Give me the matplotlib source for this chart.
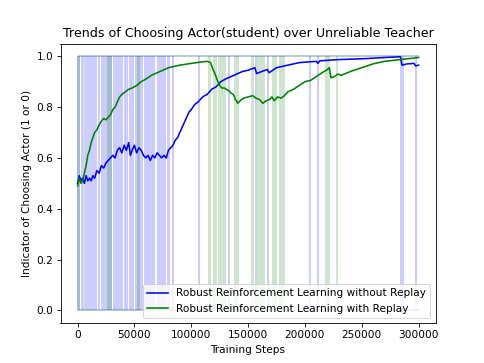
import matplotlib
matplotlib.use("Agg")
import matplotlib.pyplot as plt

# Smoothed trend: without replay (blue)
steps_norep = [0, 1500, 3000, 4500, 6000, 7500, 9000, 10500, 12000, 13500, 15000, 17000, 19000, 21000,
               23000, 25000, 27000, 29000, 31000, 33000, 35000, 37000, 39000, 41000, 43000, 45000, 46500,
               48000, 50000, 52000, 54000, 56000, 58000, 60000, 62000, 64000, 66000, 68000, 70000, 72000,
               74000, 76000, 78000, 80000, 82000, 84000, 86000, 88000, 90000, 92000, 94000, 96000, 98000,
               100000, 103000, 106000, 110000, 114000, 118000, 122000, 126000, 130000, 135000, 140000,
               145000, 150000, 156000, 157500, 162000, 167000, 168500, 175000, 185000, 195000, 210000,
               211500, 213000, 230000, 250000, 270000, 284000, 285500, 290000, 296000, 297500, 300000]
vals_norep = [0.50, 0.53, 0.51, 0.52, 0.50, 0.53, 0.51, 0.52, 0.51, 0.53, 0.52, 0.55, 0.54, 0.57,
              0.56, 0.58, 0.59, 0.60, 0.61, 0.60, 0.63, 0.64, 0.62, 0.65, 0.63, 0.66, 0.61,
              0.63, 0.65, 0.62, 0.64, 0.63, 0.61, 0.60, 0.61, 0.59, 0.61, 0.60, 0.62, 0.61,
              0.60, 0.61, 0.60, 0.63, 0.64, 0.65, 0.67, 0.68, 0.70, 0.72, 0.74, 0.76, 0.78,
              0.79, 0.81, 0.82, 0.84, 0.85, 0.87, 0.88, 0.90, 0.91, 0.92, 0.93,
              0.94, 0.945, 0.955, 0.932, 0.94, 0.948, 0.935, 0.955, 0.965, 0.975, 0.98,
              0.972, 0.982, 0.987, 0.99, 0.995, 0.998, 0.965, 0.97, 0.972, 0.962, 0.965]

# Smoothed trend: with replay (green)
steps_rep = [0, 1500, 3000, 4500, 6000, 7500, 9000, 10500, 12000, 13500, 15000, 17000, 19000, 21000,
             23000, 25000, 27000, 29000, 31000, 33000, 35000, 37000, 39000, 42000, 45000, 48000, 52000,
             56000, 60000, 65000, 70000, 75000, 80000, 90000, 100000, 110000, 114000, 117000, 119000,
             121000, 123000, 125000, 127000, 129000, 131000, 133000, 135000, 137000, 139000, 141000,
             143000, 146000, 150000, 154000, 157000, 160000, 163000, 166000, 169000, 171000, 173000,
             176000, 179000, 182000, 185000, 190000, 195000, 200000, 205000, 210000, 215000, 219000,
             221500, 223000, 226000, 229000, 232000, 240000, 250000, 260000, 270000, 280000, 290000, 300000]
vals_rep = [0.49, 0.52, 0.50, 0.51, 0.54, 0.57, 0.61, 0.63, 0.66, 0.68, 0.70, 0.71, 0.73, 0.745,
            0.755, 0.75, 0.76, 0.77, 0.79, 0.80, 0.82, 0.84, 0.85, 0.86, 0.87, 0.875, 0.885,
            0.90, 0.91, 0.925, 0.935, 0.945, 0.955, 0.965, 0.972, 0.978, 0.98, 0.975, 0.95,
            0.93, 0.905, 0.885, 0.875, 0.875, 0.87, 0.865, 0.855, 0.85, 0.83, 0.815,
            0.825, 0.835, 0.84, 0.845, 0.835, 0.83, 0.815, 0.825, 0.83, 0.84, 0.825,
            0.84, 0.835, 0.845, 0.86, 0.87, 0.885, 0.90, 0.905, 0.92, 0.935, 0.945,
            0.955, 0.915, 0.92, 0.93, 0.925, 0.94, 0.955, 0.97, 0.98, 0.985, 0.99, 0.995]

# Raw indicator switching regions (start, end) in training steps
switch_norep = [(-440, 2200), (3080, 5720), (6600, 17160), (18040, 19500), (20500, 30500),
                (31500, 40040), (40920, 44440), (45320, 49720), (50600, 57640), (58520, 68200),
                (69960, 77880), (78760, 81400), (83000, 84500), (106000, 107800), (132000, 134200),
                (156000, 158000), (166700, 168500), (203700, 205500), (210800, 212500),
                (283800, 287300), (297000, 298800)]
switch_rep = [(-440, 2200), (5720, 6600), (26000, 30400), (52360, 55000), (114800, 117500),
              (119200, 122500), (123300, 130700), (137700, 142100), (152700, 155300),
              (158000, 165000), (171200, 175600), (177300, 182600), (217800, 222200),
              (227500, 229300)]
indicator_levels = [0, 1]
indicator_range = (0, 300000)

fig, ax = plt.subplots(figsize=(6.4, 4.8), dpi=75.625)

for a, b in switch_norep:
    ax.fill_between([a, b], 0, 1, color='b', alpha=0.2, linewidth=0)
for a, b in switch_rep:
    ax.fill_between([a, b], 0, 1, color='g', alpha=0.2, linewidth=0)
ax.hlines(indicator_levels, *indicator_range, colors='b', alpha=0.2, linewidth=1.5)
ax.hlines(indicator_levels, *indicator_range, colors='g', alpha=0.2, linewidth=1.5)

ax.plot(steps_norep, vals_norep, color='b', linewidth=1.5,
        label='Robust Reinforcement Learning without Replay')
ax.plot(steps_rep, vals_rep, color='g', linewidth=1.5,
        label='Robust Reinforcement Learning with Replay')

ax.set_xlim(-15000, 315000)
ax.set_ylim(-0.05, 1.05)
ax.set_title('Trends of Choosing Actor(student) over Unreliable Teacher')
ax.set_xlabel('Training Steps')
ax.set_ylabel('Indicator of Choosing Actor (1 or 0)')
ax.legend(loc='lower right')

fig.savefig('out.png', dpi=75.625)
